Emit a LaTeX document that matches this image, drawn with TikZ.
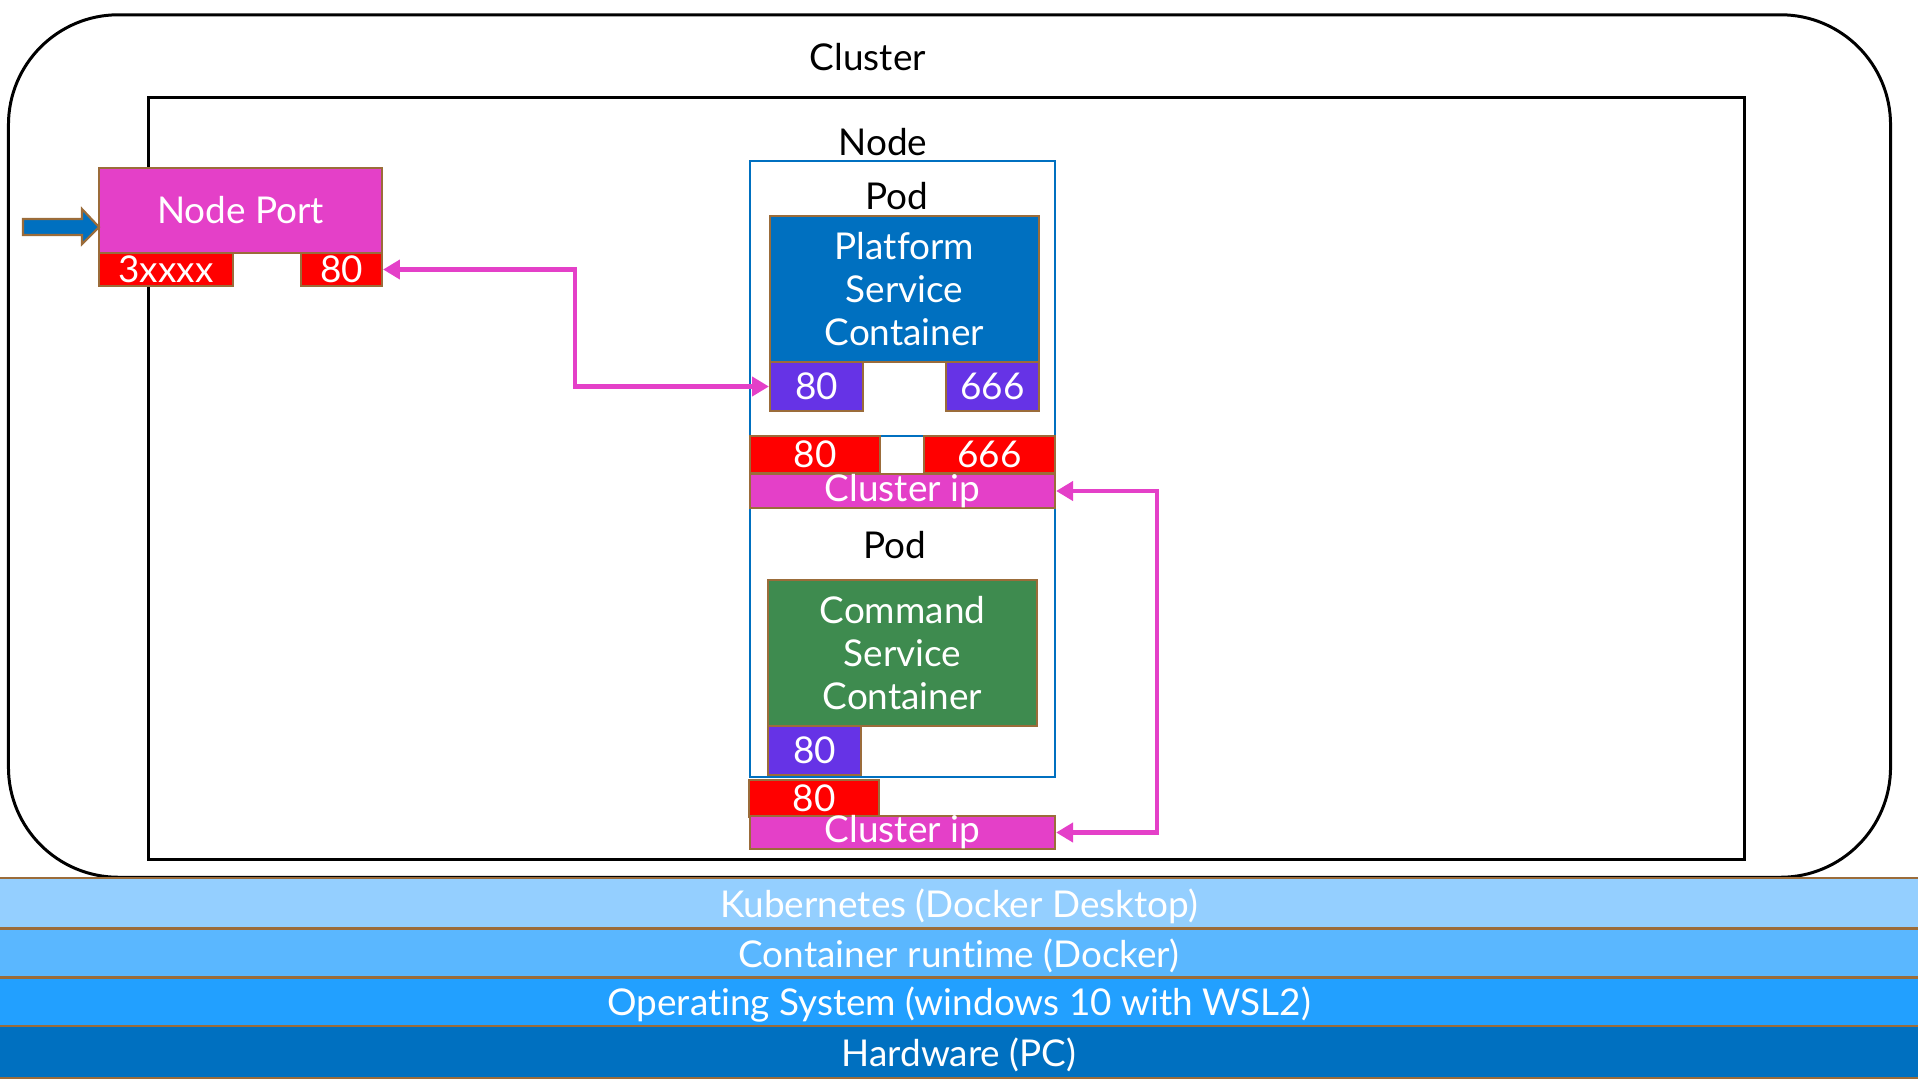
\documentclass[tikz,border=0pt]{standalone}
\usepackage{fontspec}
\setmainfont{Lato}[Ligatures=NoCommon]
\usetikzlibrary{arrows.meta}

\definecolor{rosa}{RGB}{228,64,200}
\definecolor{vermelho}{RGB}{255,0,0}
\definecolor{roxo}{RGB}{102,51,230}
\definecolor{azul}{RGB}{0,112,192}
\definecolor{verde}{RGB}{62,139,79}
\definecolor{marrom}{RGB}{155,108,58}
\definecolor{camadaA}{RGB}{148,207,255}
\definecolor{camadaB}{RGB}{90,183,255}
\definecolor{camadaC}{RGB}{34,160,255}

\tikzset{
  texto/.style={font=\fontsize{10.5}{12.2}\selectfont},
  rotulo/.style={texto, text=black, inner sep=0pt},
  caixa/.style={texto, draw=marrom, line width=0.6pt, text=white, inner sep=0pt, align=center},
  porta/.style={caixa, fill=vermelho, minimum height=0.37cm},
  portac/.style={caixa, fill=roxo, minimum width=0.93cm, minimum height=0.49cm},
  clusterip/.style={caixa, fill=rosa, minimum width=3.05cm, minimum height=0.30cm},
  camada/.style={font=\fontsize{10.5}{12.2}\selectfont, draw=marrom, line width=0.6pt, text=white, inner sep=0pt, text height=0.8em, text depth=0pt, minimum width=19.3cm},
  ligacao/.style={rosa, line width=1.15pt, {Triangle[length=4.8pt,width=5.4pt]}-{Triangle[length=4.8pt,width=5.4pt]}}
}

\begin{document}
\begin{tikzpicture}[x=0.01cm, y=-0.01cm] %1 unidade = 1 pixel da figura
\useasboundingbox (0,0) rectangle (1918,1078);

%Cluster e retangulo interno
%---------------------------------------------------
\node[draw, line width=0.85pt, rounded corners=1.1cm, minimum width=18.81cm, minimum height=8.62cm] (cluster) at (949.5,446) {};
\node[rotulo] (tcluster) at (868,57) {Cluster};
\node[draw, line width=0.95pt, minimum width=15.95cm, minimum height=7.61cm] (interno) at (946.5,478.5) {};
%---------------------------------------------------

%Node (retangulo azul) com os dois pods
%---------------------------------------------------
\node[draw=azul, line width=0.55pt, minimum width=3.05cm, minimum height=6.16cm] (node) at (902.5,469) {};
\node[rotulo] (tnode) at (883,142) {Node};
\draw[azul, line width=0.55pt] (node.west |- 0,436) coordinate (pa) -- (node.east |- 0,436) coordinate (pb);
\node[rotulo] (tpod1) at (897,196) {Pod};
\node[rotulo] (tpod2) at (895,545) {Pod};
%---------------------------------------------------

%Node Port
%---------------------------------------------------
\node[caixa, fill=rosa, minimum width=2.83cm, minimum height=0.85cm] (np) at (240.5,210.5) {Node Port};
\node[porta, minimum width=1.34cm, minimum height=0.33cm] (np3) at (166,269.5) {3xxxx};
\node[porta, minimum width=0.81cm, minimum height=0.33cm] (np80) at (341.5,269.5) {80};
\draw[fill=azul, draw=marrom, line width=0.6pt] (23,219) -- (82,219) -- (82,209) -- (99,227) -- (82,244) -- (82,235) -- (23,235) -- cycle;
%---------------------------------------------------

%Platform Service Container
%---------------------------------------------------
\node[caixa, fill=azul, minimum width=2.69cm, minimum height=1.46cm] (plat) at (904.5,289) {Platform\\Service\\Container};
\node[portac] (plat80) at (816.5,386.5) {80};
\node[portac] (plat666) at (992.5,386.5) {666};
\node[porta, minimum width=1.30cm] (svc80) at (815,454.5) {80};
\node[porta, minimum width=1.31cm] (svc666) at (989.5,454.5) {666};
\node[clusterip] (cip1) at (902.5,491) {Cluster ip};
%---------------------------------------------------

%Command Service Container
%---------------------------------------------------
\node[caixa, fill=verde, minimum width=2.69cm, minimum height=1.46cm] (cmd) at (902.5,653) {Command\\Service\\Container};
\node[portac] (cmd80) at (814.5,750.5) {80};
\node[porta, minimum width=1.30cm] (svccmd80) at (814,798.5) {80};
\node[clusterip, minimum height=0.31cm] (cip2) at (902.5,832.5) {Cluster ip};
%---------------------------------------------------

%Ligacoes em rosa
%---------------------------------------------------
\coordinate (c1) at (575,386.5);
\coordinate (c2) at (1157,491);
\draw[ligacao] (np80.east) -| (c1) -- (plat80.west);
\draw[ligacao] (cip1.east) -- (c2) |- (cip2.east);
%---------------------------------------------------

%Camadas
%---------------------------------------------------
\node[camada, fill=camadaA, minimum height=0.505cm] (k8s) at (959,903.25) {Kubernetes (Docker Desktop)};
\node[camada, fill=camadaB, minimum height=0.49cm] (runtime) at (959,953) {Container runtime (Docker)};
\node[camada, fill=camadaC, minimum height=0.485cm] (so) at (959,1001.75) {Operating System (windows 10 with WSL2)};
\node[camada, fill=azul, minimum height=0.52cm] (hw) at (959,1052) {Hardware (PC)};
%---------------------------------------------------

\end{tikzpicture}
\end{document}
